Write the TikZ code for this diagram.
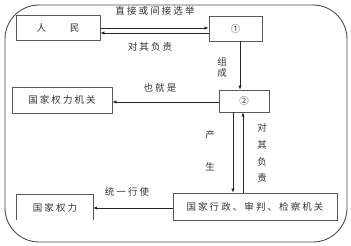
\documentclass[tikz,border=0pt]{standalone}
\usepackage{fontspec}
\newfontfamily\cjk[LetterSpace=22]{Noto Sans CJK SC}
\usetikzlibrary{arrows.meta}
\begin{document}
\begin{tikzpicture}[x=1pt,y=-1pt,
  box/.style={draw=black!65,line width=0.8pt,rectangle,inner sep=0pt,font=\cjk\fontsize{9.5}{11}\selectfont,text=black!80},
  lbl/.style={inner sep=0pt,font=\cjk\fontsize{9.5}{11}\selectfont,text=black!80},
  arr/.style={draw=black!85,line width=0.8pt,-{Latex[length=4pt,width=3.5pt]}}]
\useasboundingbox (0,0) rectangle (351,246);
\draw[black!70,line width=0.9pt,rounded corners=34pt] (5,5) rectangle (347,242);
% nodes
\node[box,minimum width=84pt,minimum height=25pt] (people) at (58,27.5) {人\hspace{24pt}民\hspace{26pt}};
\node[box,minimum width=53pt,minimum height=25pt] (n1) at (235.5,28.5) {①};
\node[box,minimum width=50pt,minimum height=22pt] (n2) at (244,101) {②};
\node[box,minimum width=100pt,minimum height=26pt] (organ) at (62,100) {国家权力机关};
\node[inner sep=0pt,minimum width=76pt,minimum height=25pt,font=\cjk\fontsize{9.5}{11}\selectfont,text=black!80] (power) at (55,207.5) {国家权力\hspace{6pt}};
\draw[black!65,line width=0.8pt] (power.south west) -- (power.north west) -- (power.north east) -- (power.south east);
\node[box,minimum width=164pt,minimum height=27pt] (exec) at (255,206.5) {国家行政、审判、检察机关};
% coordinates for parallel connectors
\coordinate (p1) at (people.east |- 0,28);
\coordinate (q1) at (n1.west |- 0,28);
\coordinate (p2) at (people.east |- 0,33);
\coordinate (q2) at (n1.west |- 0,33);
\coordinate (a1) at (n1.south -| 240,0);
\coordinate (b1) at (n2.north -| 240,0);
\coordinate (c1) at (n2.west |- 0,102);
\coordinate (d1) at (organ.east |- 0,102);
\coordinate (e1) at (n2.south -| 233,0);
\coordinate (f1) at (exec.north -| 233,0);
\coordinate (e2) at (n2.south -| 243,0);
\coordinate (f2) at (exec.north -| 243,0);
\coordinate (g1) at (exec.west |- 0,208);
\coordinate (h1) at (power.east |- 0,208);
% connectors
\draw[arr] (p1) -- (q1);
\draw[arr] (q2) -- (p2);
\draw[arr] (a1) -- (b1);
\draw[arr] (c1) -- (d1);
\draw[arr] (e1) -- (f1);
\draw[arr] (f2) -- (e2);
\draw[arr] (g1) -- (h1);
% labels
\node[lbl] (l1) at (155,11) {直接或间接选举};
\node[lbl] (l2) at (150,47) {对其负责};
\node[lbl] (l3) at (222,62) {组};
\node[lbl] (l4) at (222,73) {成};
\node[lbl] (l5) at (160,88) {也就是};
\node[lbl] (l6) at (210,135) {产};
\node[lbl] (l7) at (210,167) {生};
\node[lbl] (l8) at (262,128) {对};
\node[lbl] (l9) at (262,145) {其};
\node[lbl] (l10) at (262,162) {负};
\node[lbl] (l11) at (262,178) {责};
\node[lbl] (l12) at (127,192) {统一行使};
\end{tikzpicture}
\end{document}
